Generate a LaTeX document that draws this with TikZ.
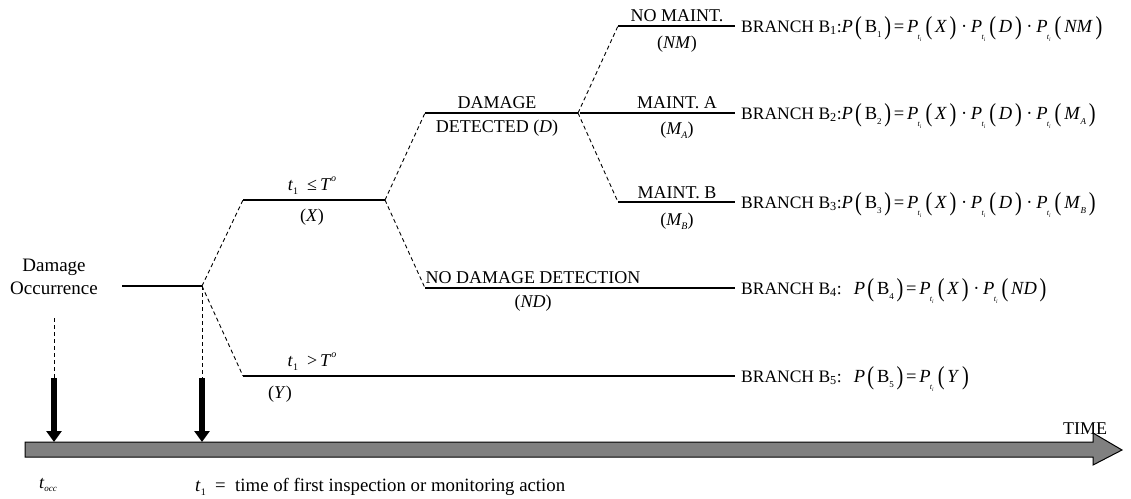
\documentclass[tikz,border=0pt]{standalone}
\usepackage{fontspec}
\setmainfont{Liberation Serif}
\usepackage{graphicx}
\usetikzlibrary{arrows.meta}

% tall parentheses and small indices for the probability expressions
\newcommand{\mf}{\fontsize{18.5}{21}\selectfont}
\newcommand{\lp}{\kern0.12em\raisebox{-0.12em}{\scalebox{1.1}[1.4]{(}}\kern0.15em}
\newcommand{\rp}{\kern0.15em\raisebox{-0.12em}{\scalebox{1.1}[1.4]{)}}\kern0.05em}
\newcommand{\vi}[1]{\textit{#1}}
\newcommand{\Pti}{\textit{P}\kern-0.04em\raisebox{-0.42em}{\fontsize{8}{8}\selectfont\textit{t}\kern-0.02em\raisebox{-0.22em}{\fontsize{5.5}{5.5}\selectfont\textit{i}}}\kern0.1em}
\newcommand{\sbb}[1]{\raisebox{-0.3em}{\fontsize{9}{9}\selectfont #1}}
\newcommand{\dotop}{\kern0.2em·\kern0.2em}
\newcommand{\eqs}{\kern0.1em=\kern0.15em}
\newcommand{\tone}{\vi{t}\raisebox{-0.25em}{\fontsize{10}{10}\selectfont 1}}
\newcommand{\Tsup}{\vi{T}\raisebox{0.5em}{\fontsize{10}{10}\selectfont\vi{o}}}

\tikzset{
  seg/.style={line width=1.3pt},
  link/.style={line width=0.9pt, dash pattern=on 4pt off 3pt},
  lbl/.style={inner sep=0pt, font=\fontsize{18}{21}\selectfont},
  eqn/.style={inner sep=0pt, font=\fontsize{17.5}{21}\selectfont, anchor=base west},
  pulse/.style={line width=6pt, -{Triangle[width=15pt,length=11pt]}},
  guide/.style={line width=0.9pt, dash pattern=on 4pt off 3pt},
}

\begin{document}
\begin{tikzpicture}[x=1pt,y=-1pt]
\useasboundingbox (0,0) rectangle (1131,498);

% time axis
\draw[line width=1pt, fill=black!50]
  (25,442) -- (1093,442) -- (1093,433) -- (1122,450) -- (1093,465)
  -- (1093,457) -- (25,457) -- cycle;
\node[lbl, anchor=base] (time) at (1085,434) {TIME};

% origin of the tree
\node[lbl, font=\fontsize{19}{23}\selectfont, align=center, anchor=base] (occ) at (54,294) {Damage\\Occurrence};
\coordinate (s0) at (122,286);
\coordinate (c0) at (202,286);
\draw[seg] (s0) -- (c0);

% time markers
\coordinate (m0a) at (54,318);
\coordinate (m0b) at (54,378);
\coordinate (m0c) at (54,442);
\coordinate (m1b) at (202,378);
\coordinate (m1c) at (202,442);
\draw[guide] (m0a) -- (m0b);
\draw[guide] (c0) -- (m1b);
\draw[pulse] (m0b) -- (m0c);
\draw[pulse] (m1b) -- (m1c);

\node[lbl, anchor=base] (tocc) at (48,488) {\vi{t}\raisebox{-0.2em}{\fontsize{9}{9}\selectfont\vi{occ}}};
\node[lbl, font=\fontsize{18.8}{21}\selectfont, anchor=base west] (tdef) at (195,491) {\tone\ \ =\ \ time of first inspection or monitoring action};

% first inspection: X / Y
\coordinate (x0) at (243,200);
\coordinate (c1) at (385,200);
\coordinate (y0) at (243,376);
\coordinate (y1) at (735,376);
\draw[link] (c0) -- (x0);
\draw[seg] (x0) -- (c1);
\draw[link] (c0) -- (y0);
\draw[seg] (y0) -- (y1);
\node[lbl, anchor=base] (lx) at (312,190) {\tone\ \ ≤\,\Tsup};
\node[lbl, anchor=base] (lxb) at (312,221) {(\vi{X})};
\node[lbl, anchor=base] (ly) at (312,366) {\tone\ \ >\,\Tsup};
\node[lbl, anchor=base] (lyb) at (280,398) {(\vi{Y})};

% detection: D / ND
\coordinate (d0) at (425,113);
\coordinate (c2) at (578,113);
\coordinate (n0) at (425,288);
\coordinate (n1) at (735,288);
\draw[link] (c1) -- (d0);
\draw[seg] (d0) -- (c2);
\draw[link] (c1) -- (n0);
\draw[seg] (n0) -- (n1);
\node[lbl, anchor=base] (ld) at (497,108) {DAMAGE};
\node[lbl, anchor=base] (ldb) at (497,132) {DETECTED (\vi{D})};
\node[lbl, anchor=base] (ln) at (533,283) {NO DAMAGE DETECTION};
\node[lbl, anchor=base] (lnb) at (533,307) {(\vi{ND})};

% maintenance: NM / MA / MB
\coordinate (a0) at (618,26);
\coordinate (a1) at (735,26);
\coordinate (b0) at (580,113);
\coordinate (b1) at (735,113);
\coordinate (e0) at (618,202);
\coordinate (e1) at (735,202);
\draw[link] (c2) -- (a0);
\draw[seg] (a0) -- (a1);
\draw[seg] (b0) -- (b1);
\draw[link] (c2) -- (e0);
\draw[seg] (e0) -- (e1);
\node[lbl, anchor=base] (la) at (677,21) {NO MAINT.};
\node[lbl, anchor=base] (lab) at (677,48) {(\vi{NM})};
\node[lbl, anchor=base] (lb) at (677,108) {MAINT. A};
\node[lbl, anchor=base] (lbb) at (677,134) {(\vi{M\raisebox{-0.25em}{\fontsize{10}{10}\selectfont A}})};
\node[lbl, anchor=base] (le) at (677,198) {MAINT. B};
\node[lbl, anchor=base] (leb) at (677,225) {(\vi{M\raisebox{-0.25em}{\fontsize{10}{10}\selectfont B}})};

% branch probabilities
\node[eqn] (br1) at (741,32) {BRANCH B\textsubscript{1}:{\mf\vi{P}\lp B\sbb{1}\rp\eqs\Pti\lp\vi{X}\rp\dotop\Pti\lp\vi{D}\rp\dotop\Pti\lp\vi{NM}\rp}};
\node[eqn] (br2) at (741,119) {BRANCH B\textsubscript{2}:{\mf\vi{P}\lp B\sbb{2}\rp\eqs\Pti\lp\vi{X}\rp\dotop\Pti\lp\vi{D}\rp\dotop\Pti\lp\vi{M}\sbb{\vi{A}}\rp}};
\node[eqn] (br3) at (741,208) {BRANCH B\textsubscript{3}:{\mf\vi{P}\lp B\sbb{3}\rp\eqs\Pti\lp\vi{X}\rp\dotop\Pti\lp\vi{D}\rp\dotop\Pti\lp\vi{M}\sbb{\vi{B}}\rp}};
\node[eqn] (br4) at (741,294) {BRANCH B\textsubscript{4}:\hspace{0.7em}{\mf\vi{P}\lp B\sbb{4}\rp\eqs\Pti\lp\vi{X}\rp\dotop\Pti\lp\vi{ND}\rp}};
\node[eqn] (br5) at (741,382) {BRANCH B\textsubscript{5}:\hspace{0.7em}{\mf\vi{P}\lp B\sbb{5}\rp\eqs\Pti\lp\vi{Y}\rp}};
\end{tikzpicture}
\end{document}
